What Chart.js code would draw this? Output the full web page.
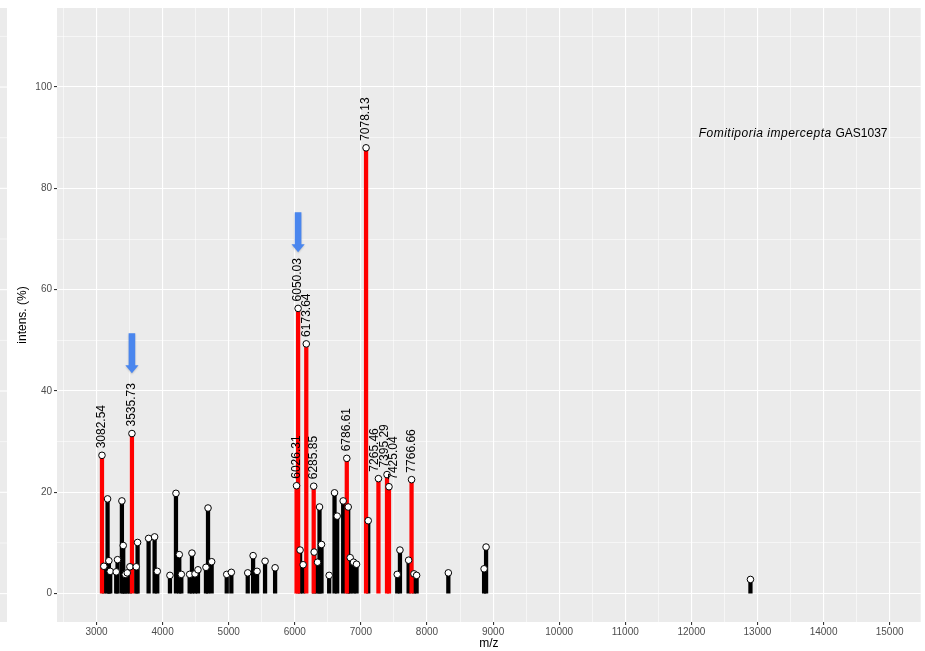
<!DOCTYPE html>
<html>
<head>
<meta charset="utf-8">
<title>Fomitiporia impercepta GAS1037 – MALDI-TOF spectrum</title>
<script src="https://cdn.jsdelivr.net/npm/chart.js@4.4.1/dist/chart.umd.min.js"></script>
<style>
  html, body { margin: 0; padding: 0; background: #ffffff; }
  #wrap { width: 925px; height: 651px; }
</style>
</head>
<body>
<div id="wrap"><canvas id="spectrum" width="925" height="651"></canvas></div>
<script>
// Unlabelled peaks (m/z, relative intensity %)
const peakMz = [3111, 3167, 3187, 3207, 3298, 3318, 3384, 3404, 3434, 3465, 3505, 3601, 3621,
  3788, 3879, 3919, 4111, 4202, 4252, 4283, 4409, 4444, 4490, 4535, 4656, 4687, 4742,
  4970, 5040, 5288, 5369, 5429, 5550, 5702, 6080, 6126, 6293, 6344, 6374, 6404, 6520,
  6601, 6641, 6732, 6808, 6838, 6889, 6934, 7111, 7550, 7591, 7722, 7803, 7843, 8323,
  8864, 8894, 12894];
const peakInt = [5.4, 18.7, 6.5, 4.4, 4.3, 6.7, 18.3, 9.5, 3.8, 4.1, 5.3, 5.3, 10.1,
  10.9, 11.2, 4.4, 3.6, 19.8, 7.7, 3.8, 3.8, 8.0, 3.9, 4.7, 5.2, 16.9, 6.3,
  3.8, 4.2, 4.1, 7.5, 4.4, 6.4, 5.1, 8.6, 5.7, 8.2, 6.2, 17.1, 9.7, 3.6,
  19.9, 15.3, 18.3, 17.1, 7.1, 6.2, 5.8, 14.4, 3.8, 8.6, 6.6, 3.9, 3.6, 4.1,
  4.9, 9.2, 2.8];

// Labelled (highlighted) peaks
const labelMz = [3082.54, 3535.73, 6026.31, 6050.03, 6173.64, 6285.85, 6786.61, 7078.13,
  7265.46, 7395.29, 7425.04, 7766.66];
const labelInt = [27.3, 31.6, 21.3, 56.3, 49.3, 21.2, 26.7, 88.0, 22.7, 23.5, 21.1, 22.5];

// Marker arrows: peak m/z, arrow tail and tip intensities
const arrowMz = [3535.73, 6050.03];
const arrowTail = [51.4, 75.3];
const arrowTip = [43.5, 67.4];

// Axis ticks
const xMajor = [3000, 4000, 5000, 6000, 7000, 8000, 9000, 10000, 11000, 12000, 13000, 14000, 15000];
const xMinor = [2500, 3500, 4500, 5500, 6500, 7500, 8500, 9500, 10500, 11500, 12500, 13500, 14500];
const yMajor = [0, 20, 40, 60, 80, 100];
const yMinor = [10, 30, 50, 70, 90, 110];

const speciesName = 'Fomitiporia impercepta';
const strainName = 'GAS1037';

const FONT = "'Liberation Sans', Arial, Helvetica, sans-serif";

// sideways shifts (px) that keep crowded labels apart
const labelShift = { '7265.46': -3.5, '7395.29': -2.8, '7425.04': 4.6 };

const toPoints = (xs, ys) => xs.map((x, i) => ({ x: x, y: ys[i] }));
const blackBars = toPoints(peakMz, peakInt);
const redBars = toPoints(labelMz, labelInt);
const tips = blackBars.concat(redBars);

const isMajorX = v => xMajor.includes(v);
const isMajorY = v => yMajor.includes(v);

// Panel background, marker arrows, peak labels and the species note
const panelPlugin = {
  id: 'panel',
  beforeDraw(chart) {
    const { ctx, chartArea: a, scales } = chart;
    ctx.save();
    ctx.fillStyle = '#ffffff';
    ctx.fillRect(0, 0, chart.width, chart.height);
    ctx.fillStyle = '#EBEBEB';
    ctx.fillRect(a.left, a.top, a.right - a.left, a.bottom - a.top);
    // sliver of a neighbouring panel at the far left edge
    ctx.fillRect(0, a.top, 7, a.bottom - a.top);
    ctx.strokeStyle = '#ffffff';
    yMajor.concat(yMinor).forEach(v => {
      const y = scales.y.getPixelForValue(v);
      ctx.lineWidth = isMajorY(v) ? 1.1 : 0.55;
      ctx.beginPath();
      ctx.moveTo(0, y);
      ctx.lineTo(7, y);
      ctx.stroke();
    });
    ctx.restore();
  },
  afterDatasetsDraw(chart) {
    const { ctx, scales } = chart;
    const xs = scales.x, ys = scales.y;
    ctx.save();

    // arrows
    ctx.fillStyle = '#4A86EE';
    ctx.shadowColor = 'rgba(0,0,0,0.18)';
    ctx.shadowBlur = 2;
    ctx.shadowOffsetY = 1;
    arrowMz.forEach((mz, i) => {
      const x = xs.getPixelForValue(mz);
      const y1 = ys.getPixelForValue(arrowTail[i]);
      const y2 = ys.getPixelForValue(arrowTip[i]);
      const sw = 3.3, hw = 6.6, hl = 8;
      ctx.beginPath();
      ctx.moveTo(x - sw, y1);
      ctx.lineTo(x + sw, y1);
      ctx.lineTo(x + sw, y2 - hl);
      ctx.lineTo(x + hw, y2 - hl);
      ctx.lineTo(x, y2);
      ctx.lineTo(x - hw, y2 - hl);
      ctx.lineTo(x - sw, y2 - hl);
      ctx.closePath();
      ctx.fill();
    });
    ctx.shadowColor = 'rgba(0,0,0,0)';
    ctx.shadowBlur = 0;
    ctx.shadowOffsetY = 0;

    // vertical m/z labels above highlighted peaks
    ctx.fillStyle = '#000000';
    ctx.font = '12px ' + FONT;
    ctx.textAlign = 'left';
    ctx.textBaseline = 'middle';
    labelMz.forEach((mz, i) => {
      const text = mz.toFixed(2);
      const x = xs.getPixelForValue(mz) + (labelShift[text] || 0);
      const y = ys.getPixelForValue(labelInt[i]);
      ctx.save();
      ctx.translate(x, y - 7);
      ctx.rotate(-Math.PI / 2);
      ctx.fillText(text, 0, 0);
      ctx.restore();
    });

    // species / strain note
    const nx = xs.getPixelForValue(12110);
    const ny = ys.getPixelForValue(90.1);
    ctx.textBaseline = 'alphabetic';
    ctx.font = 'italic 12px ' + FONT;
    ctx.letterSpacing = '0.5px';
    ctx.fillText(speciesName + ' ', nx, ny);
    const w = ctx.measureText(speciesName + ' ').width;
    ctx.font = '12px ' + FONT;
    ctx.letterSpacing = '0px';
    ctx.fillText(strainName, nx + w, ny);
    ctx.restore();
  }
};

const gridCommon = (isMajor) => ({
  color: '#ffffff',
  lineWidth: c => (c.tick && isMajor(c.tick.value)) ? 1.1 : 0.55,
  tickColor: c => (c.tick && isMajor(c.tick.value)) ? '#333333' : 'rgba(0,0,0,0)',
  tickLength: 3,
  drawTicks: true,
  offset: false
});

new Chart(document.getElementById('spectrum'), {
  type: 'bar',
  data: {
    datasets: [
      {
        type: 'line',
        data: tips,
        showLine: false,
        pointRadius: 3.3,
        pointHoverRadius: 3.3,
        pointBorderWidth: 1,
        pointBackgroundColor: '#ffffff',
        pointBorderColor: '#000000',
        order: 0
      },
      {
        data: redBars,
        backgroundColor: '#FF0000',
        barThickness: 3.6,
        grouped: false,
        borderWidth: 0,
        order: 1
      },
      {
        data: blackBars,
        backgroundColor: '#000000',
        barThickness: 3.6,
        grouped: false,
        borderWidth: 0,
        order: 2
      }
    ]
  },
  options: {
    responsive: false,
    animation: false,
    devicePixelRatio: 1,
    layout: { padding: { top: 8, right: 4, left: 0, bottom: 0 } },
    plugins: { legend: { display: false }, tooltip: { enabled: false } },
    scales: {
      x: {
        type: 'linear',
        min: 2402,
        max: 15470,
        offset: false,
        grid: gridCommon(isMajorX),
        border: { display: false },
        afterBuildTicks: s => { s.ticks = xMinor.concat(xMajor).sort((a, b) => a - b).map(v => ({ value: v })); },
        afterFit: s => { s.height = 29; },
        ticks: {
          autoSkip: false,
          maxRotation: 0,
          minRotation: 0,
          padding: 1,
          color: '#4D4D4D',
          font: { family: FONT, size: 10 },
          callback: v => isMajorX(v) ? String(v) : ''
        },
        title: {
          display: true,
          text: 'm/z',
          color: '#000000',
          font: { family: FONT, size: 12 },
          padding: { top: -4, bottom: 0 }
        }
      },
      y: {
        type: 'linear',
        min: -5.6,
        max: 115.6,
        grid: gridCommon(isMajorY),
        border: { display: false },
        afterBuildTicks: s => { s.ticks = yMinor.concat(yMajor).sort((a, b) => a - b).map(v => ({ value: v })); },
        afterFit: s => { s.width = 57; },
        ticks: {
          autoSkip: false,
          padding: 2,
          color: '#4D4D4D',
          font: { family: FONT, size: 10 },
          callback: v => isMajorY(v) ? String(v) : ''
        },
        title: {
          display: true,
          text: 'intens. (%)',
          color: '#000000',
          font: { family: FONT, size: 12 },
          padding: { top: 15, bottom: 0 }
        }
      }
    }
  },
  plugins: [panelPlugin]
});
</script>
</body>
</html>
